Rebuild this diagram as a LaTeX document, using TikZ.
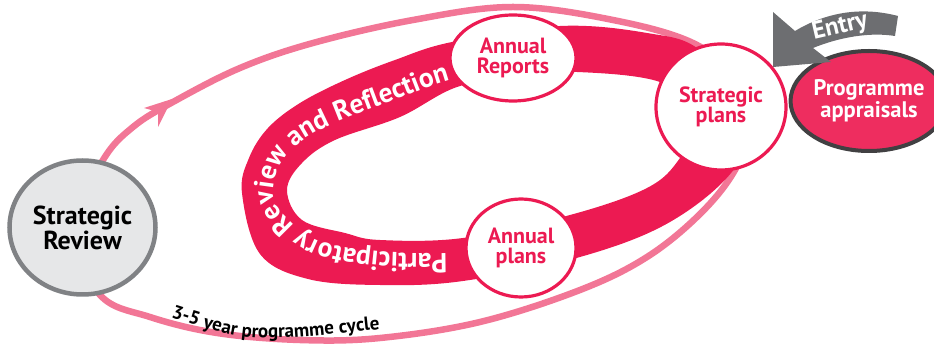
\documentclass[tikz,border=0pt]{standalone}
\usepackage{fontspec}
\setmainfont{PT Sans}
\setsansfont{PT Sans}
\usetikzlibrary{shapes.geometric,decorations.text}
\definecolor{crim}{RGB}{236,26,82}
\definecolor{pinkline}{RGB}{242,118,150}
\definecolor{apprfill}{RGB}{238,45,95}
\definecolor{apprline}{RGB}{65,64,66}
\definecolor{entrygray}{RGB}{109,110,113}
\definecolor{srfill}{RGB}{230,231,232}
\definecolor{srline}{RGB}{128,130,133}
\begin{document}
\begin{tikzpicture}[x=1pt,y=-1pt,
  cycleline/.style={draw=pinkline, line width=6.5pt},
  bub/.style={ellipse, draw=crim, fill=white, line width=3.2pt, inner sep=0pt,
    text=crim, align=center, font=\bfseries\fontsize{22}{20.5}\selectfont},
  srnode/.style={ellipse, draw=srline, fill=srfill, line width=4.5pt, inner sep=0pt,
    text=black, align=center, font=\bfseries\fontsize{26}{25}\selectfont},
  apprnode/.style={ellipse, draw=apprline, fill=apprfill, line width=4pt, inner sep=0pt,
    text=white, align=center, font=\bfseries\fontsize{22.5}{20.5}\selectfont}]
\useasboundingbox (0,0) rectangle (934,344);

% outer programme cycle
\draw[cycleline] plot[smooth cycle, tension=0.6] coordinates {
  (70,230) (103,160) (133,127) (173,102) (240,68) (313,43) (413,20) (513,7)
  (613,20) (693,43) (738,80) (750,125) (735,170) (700,214) (647,257) (580,290)
  (480,322) (380,338) (300,340) (217,333) (150,317) (100,295)};
\fill[pinkline] (172,99) -- (144,108) -- (158,112) -- (158,127) -- cycle;

% red band
\fill[crim, even odd rule]
  plot[smooth cycle, tension=0.6] coordinates {
    (242,193) (249,158) (268,128) (300,103) (345,80) (395,60) (452,42)
    (560,26) (647,33) (700,50) (752,110) (735,168) (670,222)
    (580,257) (463,281) (380,285) (308,279) (260,254)}
  plot[smooth cycle, tension=0.6] coordinates {
    (287,190) (302,163) (335,140) (400,117) (457,87) (520,76) (577,72)
    (660,82) (700,115) (680,158) (647,188) (570,215) (463,238) (380,240)
    (345,233) (302,220)};
\path[decorate, decoration={text along path, text color=white,
    text={|\bfseries\fontsize{27.5}{27.5}\selectfont|Participatory Review and Reflection}}]
  plot[smooth, tension=0.6] coordinates {(447,253) (380,252) (320,241) (285,216)
    (273,190) (286,157) (320,130) (400,98) (450,80) (500,70)};

% nodes
\node[srnode, minimum width=146pt, minimum height=134pt] (sr) at (82.5,227.5) {Strategic\\Review};
\node[bub, minimum width=126pt, minimum height=86pt] (ar) at (513,58) {Annual\\Reports};
\node[bub, minimum width=110pt, minimum height=98pt] (ap) at (521,248) {Annual\\plans};
\node[bub, minimum width=130pt, minimum height=126pt] (sp) at (721,107) {Strategic\\plans};
\node[apprnode, minimum width=126pt, minimum height=100pt] (pa) at (869,101) {Programme\\appraisals};

% entry arrow
\fill[entrygray] (898,16) .. controls (860,6) and (825,13) .. (795,31)
  -- (773,12) -- (773,67) -- (831,62) -- (813,48)
  .. controls (840,37) and (870,32) .. (895,36) -- cycle;
\node[rotate=13, text=white, font=\bfseries\fontsize{25}{25}\selectfont] (entry) at (840,27) {Entry};

% cycle label
\path[decorate, decoration={text along path, text align=center,
    text={|\bfseries\fontsize{19}{19}\selectfont|3-5 year programme cycle}}]
  (161,314) .. controls (250,343) .. (390,328);
\end{tikzpicture}
\end{document}
